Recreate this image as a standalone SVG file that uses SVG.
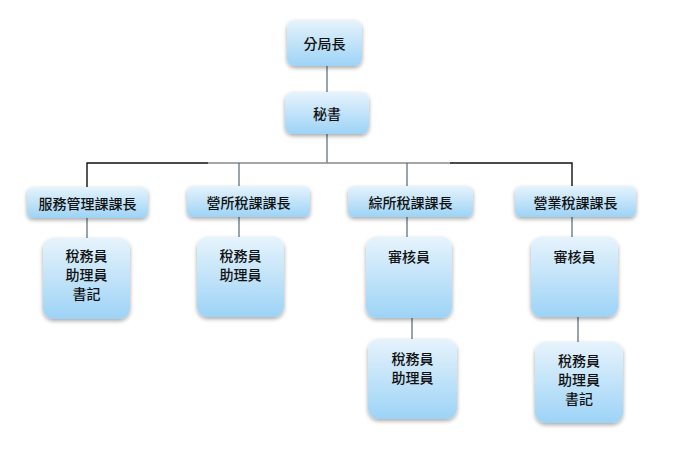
<svg xmlns="http://www.w3.org/2000/svg" width="686" height="449" viewBox="0 0 686 449">
<defs>
<linearGradient id="g" x1="0" y1="0" x2="0" y2="1">
<stop offset="0" stop-color="#e6f3fc"/>
<stop offset="1" stop-color="#9dd3f6"/>
</linearGradient>
<filter id="sh" x="-20%" y="-20%" width="140%" height="150%">
<feGaussianBlur in="SourceAlpha" stdDeviation="2"/>
<feOffset dx="0" dy="2" result="b"/>
<feComponentTransfer><feFuncA type="linear" slope="0.35"/></feComponentTransfer>
<feMerge><feMergeNode/><feMergeNode in="SourceGraphic"/></feMerge>
</filter>
</defs>
<style>
.box{fill:url(#g);filter:url(#sh)}
.t{font-family:"Noto Sans CJK TC","Noto Sans CJK SC",sans-serif;font-size:14px;font-weight:500;fill:#111;text-anchor:middle;dominant-baseline:central}
.c{stroke:#4f6878;stroke-width:1.2;fill:none}
.k{stroke:#111;stroke-width:1.4;fill:none}
.gr{stroke:#888;stroke-width:1.6;fill:none}
</style>
<rect width="686" height="449" fill="#fff"/>
<g id="connectors">
<line class="c" x1="327" y1="66" x2="327" y2="92"/>
<line class="c" x1="327" y1="134" x2="327" y2="163"/>
<polyline class="k" points="87,187 87,163 208,163"/>
<line class="gr" x1="208" y1="163" x2="450" y2="163"/>
<polyline class="k" points="450,163 572,163 572,186"/>
<line class="c" x1="239" y1="163" x2="239" y2="186"/>
<line class="c" x1="407" y1="163" x2="407" y2="186"/>
<line class="c" x1="87" y1="218" x2="87" y2="238"/>
<line class="c" x1="239" y1="217" x2="239" y2="237"/>
<line class="c" x1="407" y1="217" x2="407" y2="237"/>
<line class="c" x1="572" y1="217" x2="572" y2="237"/>
<line class="c" x1="412" y1="318" x2="412" y2="339"/>
<line class="c" x1="578" y1="317" x2="578" y2="342"/>
</g>
<g id="n-chief"><rect class="box" x="287" y="20" width="75" height="46" rx="8"/><text class="t" x="324.5" y="43">分局長</text></g>
<g id="n-secretary"><rect class="box" x="285" y="92" width="84" height="42" rx="8"/><text class="t" x="327" y="113">秘書</text></g>
<g id="n-service"><rect class="box" x="27" y="187" width="121" height="31" rx="6"/><text class="t" x="87.5" y="202.5">服務管理課課長</text></g>
<g id="n-profit"><rect class="box" x="187" y="186" width="123" height="31" rx="6"/><text class="t" x="248.5" y="201.5">營所稅課課長</text></g>
<g id="n-income"><rect class="box" x="348" y="186" width="125" height="31" rx="6"/><text class="t" x="410.5" y="201.5">綜所稅課課長</text></g>
<g id="n-business"><rect class="box" x="515" y="186" width="121" height="31" rx="6"/><text class="t" x="575.5" y="201.5">營業稅課課長</text></g>
<g id="n-service-staff"><rect class="box" x="43" y="238" width="87" height="81" rx="11"/>
<text class="t" y="255"><tspan x="86.5">稅務員</tspan><tspan x="86.5" dy="19">助理員</tspan><tspan x="86.5" dy="19">書記</tspan></text></g>
<g id="n-profit-staff"><rect class="box" x="197" y="237" width="87" height="80" rx="11"/>
<text class="t" y="255"><tspan x="240.5">稅務員</tspan><tspan x="240.5" dy="19">助理員</tspan></text></g>
<g id="n-income-audit"><rect class="box" x="366" y="237" width="86" height="81" rx="11"/>
<text class="t" x="409" y="256">審核員</text></g>
<g id="n-business-audit"><rect class="box" x="531" y="237" width="87" height="80" rx="11"/>
<text class="t" x="574.5" y="256">審核員</text></g>
<g id="n-income-staff"><rect class="box" x="368" y="339" width="89" height="80" rx="11"/>
<text class="t" y="358"><tspan x="412.5">稅務員</tspan><tspan x="412.5" dy="19">助理員</tspan></text></g>
<g id="n-business-staff"><rect class="box" x="535" y="342" width="88" height="81" rx="11"/>
<text class="t" y="360"><tspan x="579">稅務員</tspan><tspan x="579" dy="19">助理員</tspan><tspan x="579" dy="19">書記</tspan></text></g>
</svg>
